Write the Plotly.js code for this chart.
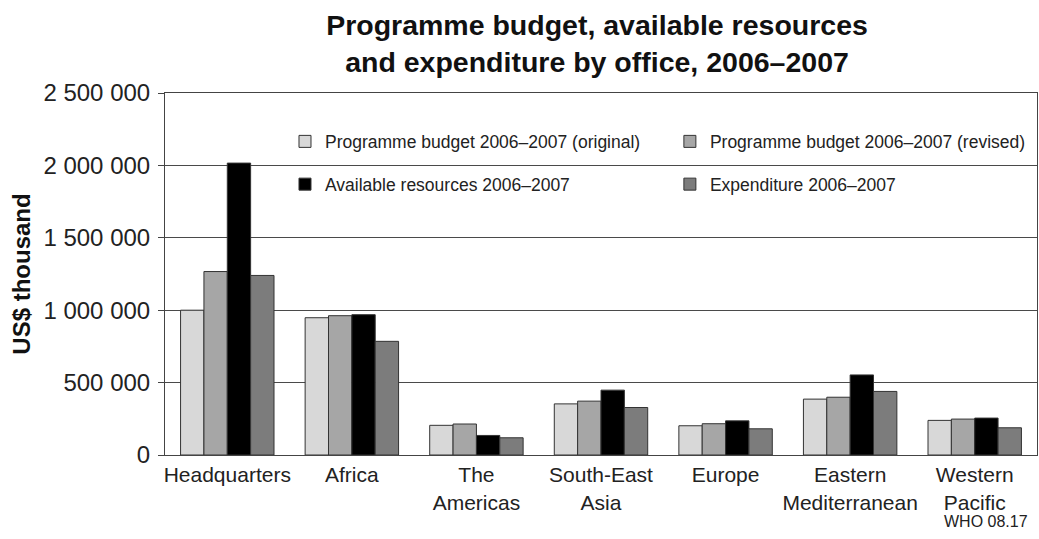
<!DOCTYPE html>
<html>
<head>
<meta charset="utf-8">
<script src="https://cdn.plot.ly/plotly-3.0.1.min.js"></script>
<style>html,body{margin:0;padding:0;background:#fff;}#chart{width:1039px;height:539px;}</style>
</head>
<body>
<div id="chart"></div>
<script>
const offices = ["Headquarters", "Africa", "The Americas", "South-East Asia", "Europe", "Eastern Mediterranean", "Western Pacific"];
const tickLine1 = ["Headquarters", "Africa", "The", "South-East", "Europe", "Eastern", "Western"];
const tickLine2 = ["", "", "Americas", "Asia", "", "Mediterranean", "Pacific"];
const budgetOriginal = [1000000, 948000, 205000, 353000, 202000, 386000, 239000];
const budgetRevised  = [1267000, 962000, 214000, 372000, 216000, 399000, 248000];
const availableRes   = [2016000, 969000, 135000, 448000, 236000, 553000, 255000];
const expenditure    = [1240000, 785000, 119000, 328000, 181000, 439000, 188000];
const seriesNames = ["Programme budget 2006–2007 (original)", "Programme budget 2006–2007 (revised)", "Available resources 2006–2007", "Expenditure 2006–2007"];
const seriesColors = ["#d8d8d8", "#a6a6a6", "#000000", "#7c7c7c"];
const seriesValues = [budgetOriginal, budgetRevised, availableRes, expenditure];
const legendIds = ["legend", "legend2", "legend", "legend2"];

const traces = seriesValues.map((vals, i) => ({
  type: "bar",
  x: offices,
  y: vals,
  name: seriesNames[i],
  legend: legendIds[i],
  legendgroup: "g" + i,
  marker: {color: seriesColors[i], line: {color: "#333333", width: 1}},
  hoverinfo: "x+y+name"
}));

const FONT = "Liberation Sans, Arial, Helvetica, sans-serif";
const legendCommon = {
  orientation: "v", xanchor: "left", yanchor: "middle", y: 0.8066,
  font: {family: FONT, size: 17.5, color: "#222"},
  bgcolor: "rgba(0,0,0,0)", borderwidth: 0,
  traceorder: "grouped", tracegroupgap: 17
};

const tickText = tickLine1.map((t, i) => tickLine2[i] ? t + "<br>" + tickLine2[i] : t);

const layout = {
  width: 1039, height: 539,
  margin: {l: 165, r: 2, t: 93, b: 84, autoexpand: false},
  paper_bgcolor: "#ffffff", plot_bgcolor: "#ffffff",
  font: {family: FONT, color: "#222"},
  separators: ". ",
  title: {
    text: "<b>Programme budget, available resources<br>and expenditure by office, 2006–2007</b>",
    font: {family: FONT, size: 28.5, color: "#111"},
    x: 0.5746, xanchor: "center", xref: "container",
    y: 0.9347, yanchor: "middle", yref: "container"
  },
  barmode: "group", bargap: 0.25, bargroupgap: 0,
  xaxis: {
    type: "category",
    tickmode: "array", tickvals: offices, ticktext: tickText,
    showgrid: false, ticks: "", showline: true, linecolor: "#444", linewidth: 1,
    mirror: true, ticklabelstandoff: 1,
    tickfont: {family: FONT, size: 21, color: "#222"},
    fixedrange: true
  },
  yaxis: {
    range: [0, 2500000], dtick: 500000, tick0: 0, tickformat: ",d",
    showgrid: true, gridcolor: "#4a4a4a", gridwidth: 1,
    showline: true, linecolor: "#444", linewidth: 1, mirror: true,
    ticks: "outside", ticklen: 6, tickcolor: "#444", ticklabelstandoff: 3,
    tickfont: {family: FONT, size: 24, color: "#222"},
    zeroline: false,
    title: {text: "<b>US$ thousand</b>", font: {family: FONT, size: 24, color: "#111"}, standoff: 6},
    fixedrange: true
  },
  legend: Object.assign({x: 0.1376}, legendCommon),
  legend2: Object.assign({x: 0.579}, legendCommon),
  annotations: [{
    text: "WHO 08.17", xref: "paper", yref: "paper", x: 0.992, y: -0.185,
    xanchor: "right", yanchor: "middle", showarrow: false,
    font: {family: FONT, size: 16, color: "#222"}
  }],
  showlegend: true
};

Plotly.newPlot("chart", traces, layout, {displayModeBar: false, staticPlot: true});
</script>
</body>
</html>
